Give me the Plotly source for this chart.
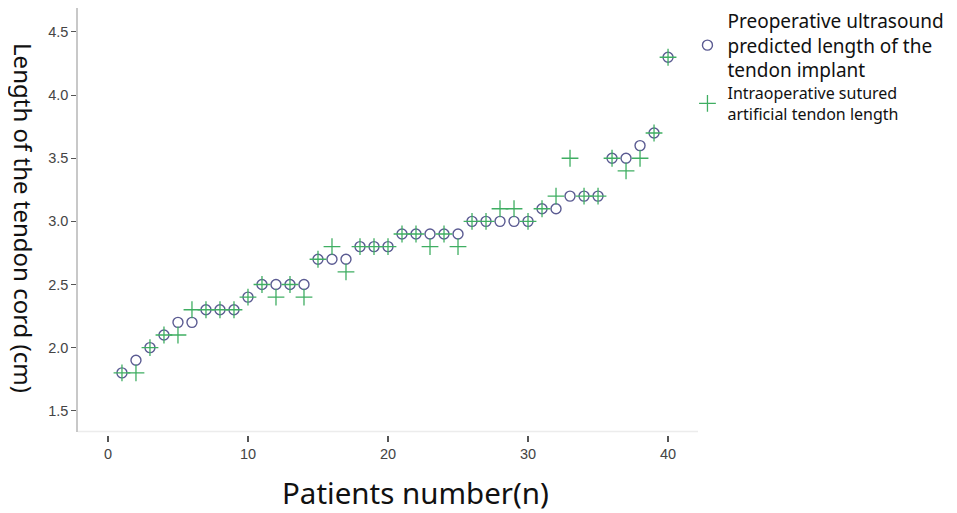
import plotly.graph_objects as go

patients = list(range(1, 41))
preop_ultrasound = [1.8, 1.9, 2.0, 2.1, 2.2, 2.2, 2.3, 2.3, 2.3, 2.4,
                    2.5, 2.5, 2.5, 2.5, 2.7, 2.7, 2.7, 2.8, 2.8, 2.8,
                    2.9, 2.9, 2.9, 2.9, 2.9, 3.0, 3.0, 3.0, 3.0, 3.0,
                    3.1, 3.1, 3.2, 3.2, 3.2, 3.5, 3.5, 3.6, 3.7, 4.3]
intraop_sutured = [1.8, 1.8, 2.0, 2.1, 2.1, 2.3, 2.3, 2.3, 2.3, 2.4,
                   2.5, 2.4, 2.5, 2.4, 2.7, 2.8, 2.6, 2.8, 2.8, 2.8,
                   2.9, 2.9, 2.8, 2.9, 2.8, 3.0, 3.0, 3.1, 3.1, 3.0,
                   3.1, 3.2, 3.5, 3.2, 3.2, 3.5, 3.4, 3.5, 3.7, 4.3]
x_ticks = [0, 10, 20, 30, 40]
y_ticks = [1.5, 2.0, 2.5, 3.0, 3.5, 4.0, 4.5]

name_pre = "Preoperative ultrasound<br>predicted length of the<br>tendon implant"
name_intra = "Intraoperative sutured<br>artificial tendon length"

fig = go.Figure()
fig.add_trace(go.Scatter(
    x=patients, y=preop_ultrasound, mode="markers", name=name_pre,
    legend="legend", showlegend=True,
    marker=dict(symbol="circle-open", size=10, color="#5b5b92",
                line=dict(width=1.4, color="#5b5b92")),
))
fig.add_trace(go.Scatter(
    x=patients, y=intraop_sutured, mode="markers", name=name_intra,
    legend="legend2", showlegend=True,
    marker=dict(symbol="cross-thin-open", size=12, color="#3fae62",
                line=dict(width=1.3, color="#3fae62")),
))

tick_font = dict(family="Liberation Sans, Arial", size=14.5, color="#444")

# the page body has an 8px margin, so the figure is 8px smaller each way
fig.update_layout(
    width=949, height=505, showlegend=True,
    margin=dict(l=70, r=259, t=0, b=78, autoexpand=False),
    paper_bgcolor="white", plot_bgcolor="white",
    font=dict(family="Noto Sans, Open Sans", color="#111"),
    xaxis=dict(
        range=[-2.14, 42.14], tickvals=x_ticks, showgrid=False, zeroline=False,
        showline=False, ticks="outside", ticklen=6, tickwidth=1.5,
        tickcolor="#555", tickfont=tick_font, anchor="free", position=0,
        automargin=False,
    ),
    yaxis=dict(
        range=[1.335, 4.69], tickvals=y_ticks, tickformat=".1f",
        showgrid=False, zeroline=False, showline=True, linecolor="#c8c8c8",
        linewidth=1.5, ticks="outside", ticklen=5, tickwidth=1.2,
        tickcolor="#555", tickfont=tick_font, domain=[0.008, 1],
        automargin=False,
    ),
    legend=dict(
        x=0.983, y=0.912, xanchor="left", yanchor="middle",
        font=dict(family="Noto Sans, Open Sans", size=19, color="#111"),
        itemsizing="trace", bgcolor="rgba(0,0,0,0)",
    ),
    legend2=dict(
        x=0.983, y=0.776, xanchor="left", yanchor="middle",
        font=dict(family="Noto Sans, Open Sans", size=16, color="#111"),
        itemsizing="trace", bgcolor="rgba(0,0,0,0)",
    ),
    shapes=[dict(type="line", xref="x domain", yref="y domain",
                 x0=0, x1=1, y0=0, y1=0,
                 line=dict(color="#ececec", width=1.5))],
    annotations=[
        dict(text="Patients number(n)", xref="paper", yref="paper",
             x=0.545, y=-0.134, xanchor="center", yanchor="middle",
             showarrow=False,
             font=dict(family="Noto Sans, Open Sans", size=29.5, color="#111")),
        dict(text="Length of the tendon cord (cm)", xref="paper", yref="paper",
             x=-0.087, y=0.508, xanchor="center", yanchor="middle",
             textangle=90, showarrow=False,
             font=dict(family="Noto Sans, Open Sans", size=24, color="#111")),
    ],
)

fig.write_html("out.html")
